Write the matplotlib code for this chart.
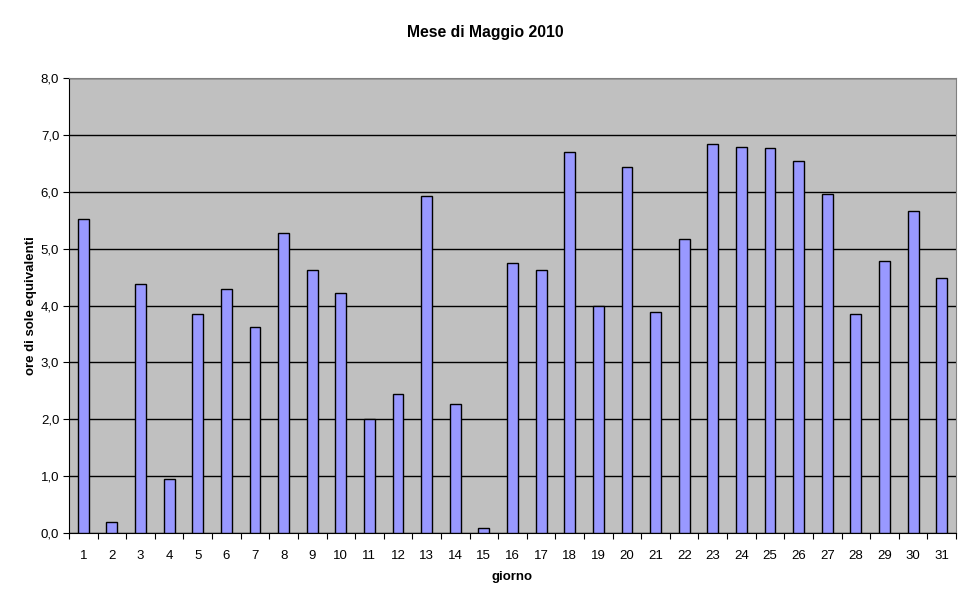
import numpy as np
import matplotlib.pyplot as plt

plt.rcParams['font.family'] = ['Liberation Sans', 'DejaVu Sans']

giorni = list(range(1, 32))
ore_sole = [5.52, 0.19, 4.38, 0.95, 3.85, 4.29, 3.62, 5.28, 4.62, 4.22,
            2.00, 2.44, 5.93, 2.27, 0.09, 4.75, 4.62, 6.70, 3.99, 6.44,
            3.89, 5.17, 6.84, 6.79, 6.77, 6.54, 5.96, 3.85, 4.78, 5.66, 4.48]
y_ticks = [0, 1, 2, 3, 4, 5, 6, 7, 8]
y_tick_labels = ['0,0', '1,0', '2,0', '3,0', '4,0', '5,0', '6,0', '7,0', '8,0']

fig = plt.figure(figsize=(9.7, 6.03), dpi=100)
ax = fig.add_axes([0.0711, 0.1161, 0.9145, 0.7545])
ax.set_facecolor('#C0C0C0')

x = np.arange(len(giorni))
ax.bar(x, ore_sole, width=0.38, color='#9999FF', edgecolor='black',
       linewidth=1.0, zorder=3)

ax.set_xlim(-0.5, len(giorni) - 0.5)
ax.set_ylim(0, 8)
ax.set_yticks(y_ticks)
ax.set_yticklabels(y_tick_labels, fontsize=9.5)
ax.yaxis.grid(True, color='black', linewidth=1.0, zorder=1)
ax.set_axisbelow(True)

# tick marks between categories, labels centered on bars
ax.set_xticks(np.arange(len(giorni) + 1) - 0.5)
ax.set_xticklabels([])
ax.set_xticks(x, minor=True)
ax.set_xticklabels([str(g) for g in giorni], minor=True, fontsize=9.5)
ax.tick_params(axis='x', which='major', direction='out', length=4, color='black')
ax.tick_params(axis='x', which='minor', length=0, pad=12)
ax.tick_params(axis='y', direction='out', length=4, pad=3)

for side in ['top', 'right']:
    ax.spines[side].set_color('#808080')
ax.spines['left'].set_color('black')
ax.spines['bottom'].set_color('black')

ax.set_xlabel('giorno', fontsize=9.5, fontweight='bold', labelpad=7)
ax.set_ylabel('ore di sole equivalenti', fontsize=9.5, fontweight='bold', labelpad=3)
fig.suptitle('Mese di Maggio 2010', fontsize=11.3, fontweight='bold', y=0.958)

fig.savefig('out.png', dpi=100)
